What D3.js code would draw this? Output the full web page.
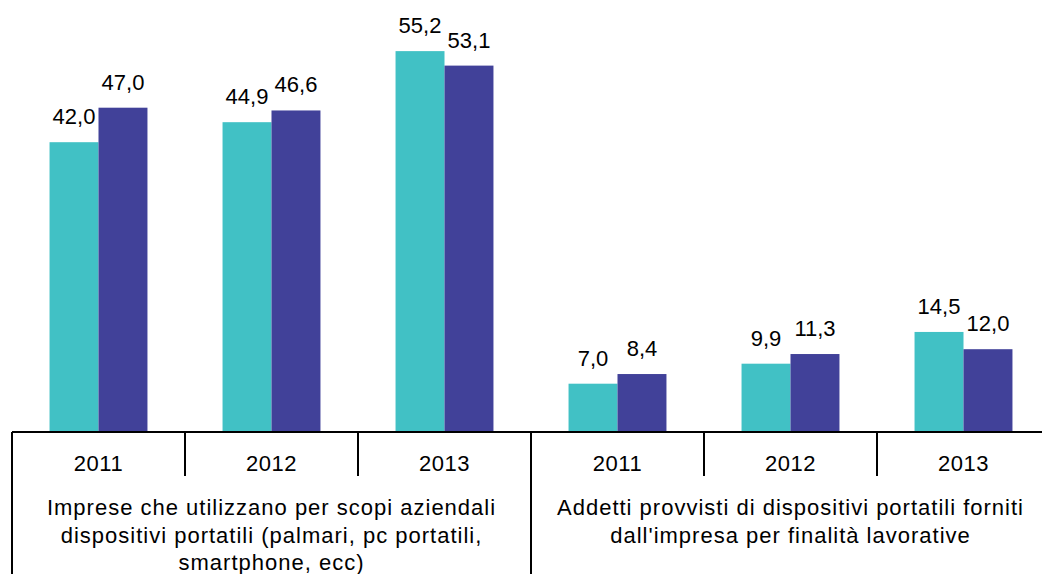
<!DOCTYPE html>
<html><head><meta charset="utf-8">
<script src="https://cdn.jsdelivr.net/npm/d3@7"></script>
<style>html,body{margin:0;padding:0;background:#fff;overflow:hidden}svg{display:block}text{font-family:"Liberation Sans",Arial,sans-serif;fill:#000}</style>
</head><body><svg id="c" width="1042" height="574"></svg>
<script>
const groups = [
  ["Imprese che utilizzano per scopi aziendali", "dispositivi portatili (palmari, pc portatili,", "smartphone, ecc)"],
  ["Addetti provvisti di dispositivi portatili forniti", "dall'impresa per finalità lavorative"]
];
const years = ["2011", "2012", "2013"];
const seriesA = [42.0, 44.9, 55.2, 7.0, 9.9, 14.5];
const seriesB = [47.0, 46.6, 53.1, 8.4, 11.3, 12.0];
const colors = ["#41C1C5", "#414199"];

const svg = d3.select("#c");
const x0 = 12, x1 = 1050, yBase = 432, yTop = 18;
const cats = d3.range(groups.length * years.length);
const x = d3.scaleBand().domain(cats).range([x0, x1]).paddingInner(0.434).paddingOuter(0.217);
const xs = d3.scaleBand().domain([0, 1]).range([0, x.bandwidth()]);
const y = d3.scaleLinear().domain([0, 60]).range([yBase, yTop]);
const gScale = d3.scaleBand().domain(d3.range(groups.length)).range([x0, x1]);

const series = [seriesA, seriesB];
series.forEach((s, si) => {
  svg.append("g").selectAll("rect").data(s).join("rect")
    .attr("x", (d, i) => x(i) + xs(si))
    .attr("y", d => y(d))
    .attr("width", xs.bandwidth())
    .attr("height", d => yBase - y(d))
    .attr("fill", colors[si]);
  svg.append("g").selectAll("text").data(s).join("text")
    .attr("x", (d, i) => x(i) + xs(si) + xs.bandwidth() / 2)
    .attr("y", d => y(d) - 18)
    .attr("text-anchor", "middle")
    .attr("font-size", 22)
    .text(d => d.toFixed(1).replace(".", ","));
});

// axis line
svg.append("line").attr("x1", x0).attr("x2", 1042).attr("y1", yBase).attr("y2", yBase)
  .attr("stroke", "#000").attr("stroke-width", 2);
// year separators
const step = x.step();
cats.forEach(i => {
  const xl = x0 + i * step;
  const isGroup = i % years.length === 0;
  svg.append("line").attr("x1", xl).attr("x2", xl).attr("y1", yBase).attr("y2", isGroup ? 574 : 476)
    .attr("stroke", "#000").attr("stroke-width", 2);
  svg.append("text").attr("x", x(i) + x.bandwidth() / 2).attr("y", 471)
    .attr("text-anchor", "middle").attr("font-size", 22).attr("letter-spacing", "0.5px")
    .text(years[i % years.length]);
});
groups.forEach((lines, gi) => {
  const cx = gScale(gi) + gScale.bandwidth() / 2;
  lines.forEach((ln, li) => {
    svg.append("text").attr("x", cx).attr("y", 515 + li * 27.5)
      .attr("text-anchor", "middle").attr("font-size", 22)
      .attr("letter-spacing", "1px").text(ln);
  });
});
</script></body></html>
